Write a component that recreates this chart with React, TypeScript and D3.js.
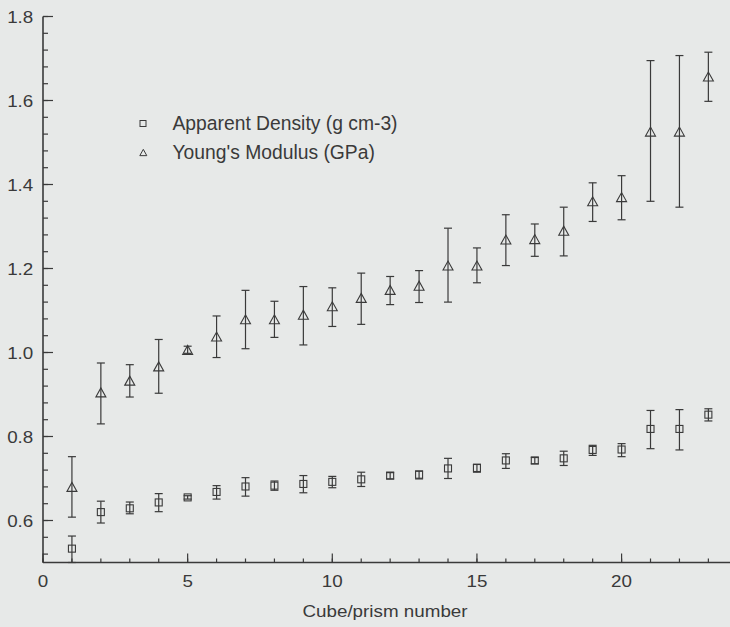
import React from "react";
import * as d3 from "d3";

const cubes = [1,2,3,4,5,6,7,8,9,10,11,12,13,14,15,16,17,18,19,20,21,22,23];
const densityMean = [0.533,0.620,0.629,0.643,0.655,0.668,0.681,0.683,0.687,0.692,0.698,0.707,0.709,0.724,0.725,0.743,0.743,0.748,0.768,0.769,0.818,0.818,0.852];
const densityLow  = [0.500,0.594,0.616,0.621,0.651,0.651,0.658,0.672,0.666,0.678,0.681,0.699,0.699,0.700,0.715,0.724,0.735,0.731,0.755,0.752,0.771,0.768,0.837];
const densityHigh = [0.563,0.646,0.644,0.664,0.659,0.683,0.702,0.694,0.707,0.705,0.715,0.714,0.718,0.748,0.734,0.759,0.750,0.765,0.779,0.783,0.862,0.864,0.866];
const youngMean = [0.680,0.905,0.933,0.967,1.006,1.038,1.079,1.079,1.090,1.110,1.130,1.149,1.159,1.207,1.207,1.269,1.270,1.290,1.360,1.370,1.526,1.526,1.657];
const youngLow  = [0.608,0.830,0.894,0.903,0.998,0.988,1.009,1.036,1.018,1.062,1.067,1.114,1.119,1.120,1.166,1.207,1.229,1.230,1.312,1.316,1.360,1.346,1.598];
const youngHigh = [0.752,0.975,0.971,1.031,1.015,1.087,1.148,1.122,1.157,1.154,1.189,1.181,1.195,1.296,1.249,1.328,1.306,1.346,1.404,1.421,1.695,1.707,1.715];

const xMajorTicks = [0, 5, 10, 15, 20];
const yMajorTicks = [0.6, 0.8, 1.0, 1.2, 1.4, 1.6, 1.8];
const legendLabels = ["Apparent Density (g cm-3)", "Young's Modulus (GPa)"];
const xTitle = "Cube/prism number";

const W = 730, H = 627;
const INK = "#3a3a3a";
const FONT = "'Liberation Sans', Arial, Helvetica, sans-serif";
const SX = 1.14;

export default function App() {
  const x = d3.scaleLinear().domain([0, 24]).range([43, 737.3]);
  const y = d3.scaleLinear().domain([0.5, 1.8]).range([562.5, 16.5]);
  const xMinor = d3.range(0, 24, 1);
  const yMinor = d3.range(0.52, 1.8001, 0.04).map(v => +v.toFixed(2));

  const sq = 7;
  const tri = (cx: number, cy: number, s: number) => {
    const h = s * 0.9;
    return `M${cx - s / 2},${cy + h / 2} L${cx},${cy - h / 2} L${cx + s / 2},${cy + h / 2} Z`;
  };
  const capW = 8;

  const errBar = (xi: number, lo: number, hi: number, key: string) => (
    <g key={key}>
      <line x1={x(xi)} x2={x(xi)} y1={y(lo)} y2={y(hi)} />
      <line x1={x(xi) - capW / 2} x2={x(xi) + capW / 2} y1={y(lo)} y2={y(lo)} />
      <line x1={x(xi) - capW / 2} x2={x(xi) + capW / 2} y1={y(hi)} y2={y(hi)} />
    </g>
  );

  const sText = (tx: number, ty: number, s: string, anchor: string, key?: string) => (
    <g key={key} transform={`translate(${tx},${ty}) scale(${SX},1)`}>
      <text x={0} y={0} textAnchor={anchor}>{s}</text>
    </g>
  );

  return (
    <svg width={W} height={H} style={{ position: "absolute", left: 0, top: 0, background: "#e7e9e8" }} fontFamily={FONT}>
      <rect x={0} y={0} width={W} height={H} fill="#e7e9e8" />
      {/* axes */}
      <g stroke={INK} strokeWidth={1.6} fill="none">
        <line x1={x(0)} x2={x(0)} y1={y(1.8)} y2={y(0.5)} />
        <line x1={x(0)} x2={W} y1={y(0.5)} y2={y(0.5)} />
      </g>
      <g stroke={INK} strokeWidth={1.2}>
        {yMinor.map(v => (
          <line key={"ym" + v} x1={x(0)} x2={x(0) + 5} y1={y(v)} y2={y(v)} />
        ))}
        {yMajorTicks.map(v => (
          <line key={"yM" + v} x1={x(0)} x2={x(0) + 10} y1={y(v)} y2={y(v)} />
        ))}
        {xMinor.map(v => (
          <line key={"xm" + v} x1={x(v)} x2={x(v)} y1={y(0.5)} y2={y(0.5) - 4} />
        ))}
        {xMajorTicks.map(v => (
          <line key={"xM" + v} x1={x(v)} x2={x(v)} y1={y(0.5)} y2={y(0.5) - 9} />
        ))}
      </g>
      <g fill={INK} fontSize={16.5}>
        {yMajorTicks.map(v => sText(33.3, y(v) + 6, v.toFixed(1), "end", "yl" + v))}
        {xMajorTicks.map(v => sText(x(v), 587, String(v), "middle", "xl" + v))}
        {sText(385, 617, xTitle, "middle", "xt")}
      </g>
      {/* error bars */}
      <g stroke={INK} strokeWidth={1.2} fill="none">
        {cubes.map((c, i) => errBar(c, densityLow[i], densityHigh[i], "de" + i))}
        {cubes.map((c, i) => errBar(c, youngLow[i], youngHigh[i], "ye" + i))}
      </g>
      {/* markers */}
      <g stroke={INK} strokeWidth={1.1} fill="none">
        {cubes.map((c, i) => (
          <rect key={"ds" + i} x={x(c) - sq / 2} y={y(densityMean[i]) - sq / 2} width={sq} height={sq} />
        ))}
        {cubes.map((c, i) => (
          <path key={"yt" + i} d={tri(x(c), y(youngMean[i]), 10)} />
        ))}
      </g>
      {/* legend */}
      <g stroke={INK} strokeWidth={1} fill="none">
        <rect x={140} y={120.5} width={6} height={6} />
        <path d={tri(143.3, 152.5, 7)} />
      </g>
      <g fill={INK} fontSize={19.3}>
        <text x={172.5} y={129.5}>{legendLabels[0]}</text>
        <text x={172.5} y={158.5}>{legendLabels[1]}</text>
      </g>
    </svg>
  );
}
